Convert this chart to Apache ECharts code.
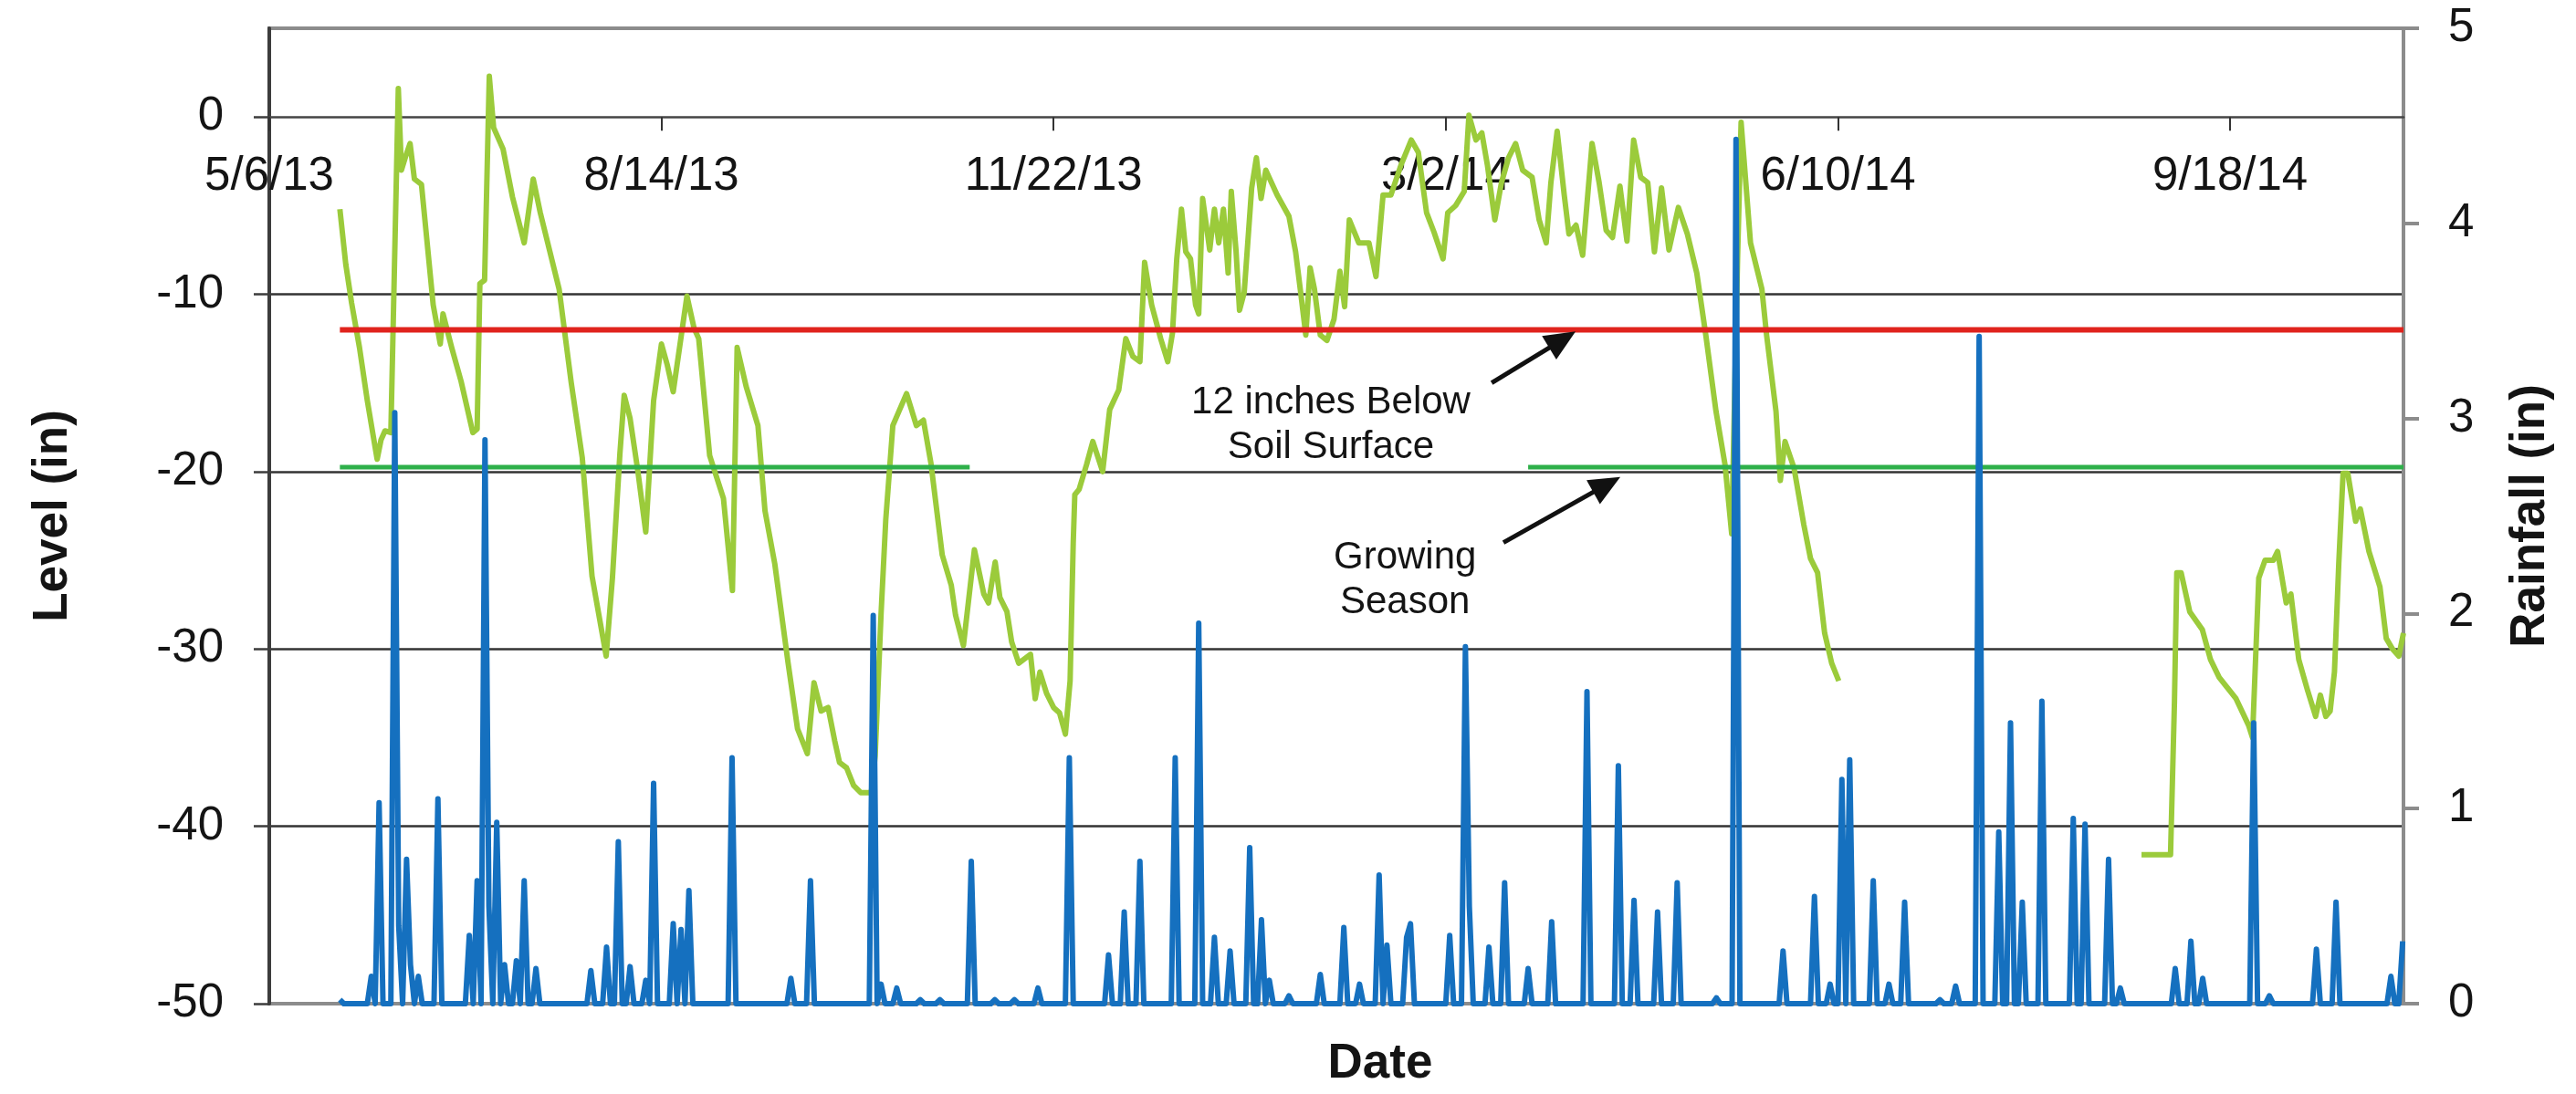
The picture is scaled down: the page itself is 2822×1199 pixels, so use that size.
<!DOCTYPE html>
<html>
<head>
<meta charset="utf-8">
<script src="https://cdn.jsdelivr.net/npm/echarts@6/dist/echarts.min.js"></script>
<style>
  html, body { margin: 0; padding: 0; background: #ffffff; }
  #chart { width: 2822px; height: 1199px; }
</style>
</head>
<body>
<div id="chart"></div>
<script>
// Days are counted from 5/6/13 (day 0); the date axis shows a tick every 100 days.
const tickDays = [0, 100, 200, 300, 400, 500];
const tickLabels = ['5/6/13', '8/14/13', '11/22/13', '3/2/14', '6/10/14', '9/18/14'];
const axisEndDay = 544.2;

const levelMin = -50;
const levelMax = 5;
const levelTicks = [-50, -40, -30, -20, -10, 0];

// Water level in the well (inches relative to the soil surface); null marks the logger gap.
const levelDays = [
  18, 19.5, 21, 23, 25, 27.5, 28.5, 29.5, 31, 32.9, 33.7, 34.8, 35.9, 37, 38.8, 41.8, 43.6, 44.3,
  46.5, 48.9, 51.9, 53, 53.7, 54.9, 56.1, 57.2, 59.6, 62, 65, 67.3, 69.1, 73.9, 77, 79.8, 82.3,
  85.9, 87.5, 89.4, 90.5, 92, 94, 96, 98, 100, 101.5, 103, 106.5, 108.3, 109.5, 112.3, 115.8,
  118.1, 119.3, 121.6, 124.6, 126.4, 128.9, 132.3, 134.7, 137.2, 138.9, 140.7, 142.5, 144.2,
  145.4, 147.2, 149, 150.8, 153.5, 154.5, 156, 157.2, 159, 162.5, 165, 166.8, 168.7, 171.6,
  173.9, 175, 177, 179.8, 182.2, 183.4, 185.1, 186.3, 188.1, 189.3, 191.1, 194.1, 195.3, 196.5,
  198.2, 200, 201.5, 203, 204.2, 205, 205.4, 206.5, 208.4, 210, 212.5, 214.3, 216.6, 218.4,
  220.2, 222, 223.2, 225, 227.3, 229.1, 230.3, 231.4, 232.6, 233.7, 234.9, 236.2, 237, 238,
  239.8, 241, 242.1, 243.3, 244.5, 245.3, 246.5, 247.4, 248.6, 250.5, 251.7, 252.9, 254.1, 257,
  260, 261.7, 263, 264.3, 265.4, 266.5, 268, 269.7, 271.5, 273, 274.2, 275.4, 277.8, 280.4,
  282.2, 284, 286, 288.6, 291.2, 293, 295.1, 297, 299.3, 300.5, 302.5, 304.7, 305.9, 307.7,
  309.2, 310.6, 312.5, 314.2, 316, 317.8, 319.6, 322, 323.8, 325.6, 326.8, 328.4, 330.2, 331.4,
  333.2, 334.9, 337.3, 339.1, 340.9, 342.5, 344.4, 346.2, 347.9, 349.7, 351.5, 353.2, 355,
  356.9, 359.3, 361.6, 364, 366.3, 368.9, 371.2, 372.9, 374.4, 375.3, 376.5, 377.7, 380.6,
  381.8, 384.2, 385.3, 386.5, 388.8, 391.3, 393, 394.8, 396.6, 398.4, 400.2,
  440,
  477.4, 484.8, 485.8, 486.4, 487.5, 489.7, 492.9, 495, 497.2, 501.5, 504.7, 505.7, 507.3,
  508.9, 511, 512.1, 514.3, 515.5, 517.5, 519.7, 521.8, 523, 524.4, 525.5, 526.6, 527.7, 528.8,
  530, 532, 533.2, 535.4, 538.2, 539.8, 541.4, 543, 544.2
];
const levelInches = [
  -5.2, -8.3, -10.5, -13, -16, -19.3, -18.2, -17.7, -17.8, 1.6, -3.0, -2.2, -1.5, -3.5, -3.8, -10.6, -12.8, -11.1,
  -13.0, -14.9, -17.8, -17.6, -9.4, -9.2, 2.3, -0.6, -1.8, -4.5, -7.1, -3.5, -5.4, -9.7, -15, -19.2, -25.9,
  -30.4, -26.0, -19.0, -15.7, -17.0, -20.0, -23.4, -16.0, -12.8, -14.0, -15.5, -10.1, -11.9, -12.5, -19.1, -21.5,
  -26.7, -13.0, -15.2, -17.4, -22.2, -25.2, -30.8, -34.5, -35.9, -31.9, -33.5, -33.3, -35.2,
  -36.4, -36.7, -37.7, -38.1, -38.1, -36, -28, -22.7, -17.4, -15.6, -17.4, -17.1, -19.5, -24.7,
  -26.4, -28.1, -29.8, -24.4, -26.9, -27.4, -25.1, -27.1, -27.9, -29.6, -30.8, -30.3, -32.8, -31.3,
  -32.5, -33.3, -33.6, -34.8, -31.8, -24.0, -21.3, -21.0, -19.6, -18.3, -20.0, -16.5, -15.4, -12.5,
  -13.5, -13.8, -8.2, -10.6, -12.5, -13.8, -12.2, -8.0, -5.2, -7.6, -8.0, -10.6, -11.1, -4.6,
  -7.5, -5.2, -7.1, -5.2, -8.8, -4.2, -7.5, -10.9, -9.9, -4.0, -2.3, -4.6, -3.0, -4.4,
  -5.6, -7.6, -9.9, -12.3, -8.5, -9.7, -12.3, -12.6, -11.4, -8.7, -10.7, -5.8, -7.1, -7.1,
  -9.0, -4.4, -4.4, -2.7, -1.3, -2.0, -5.4, -6.5, -8.0, -5.4, -5.0, -4.2, 0.1, -1.3,
  -0.9, -2.7, -5.8, -3.7, -2.3, -1.5, -3.0, -3.4, -5.8, -7.1, -3.7, -0.8, -4.4, -6.6,
  -6.1, -7.8, -1.5, -3.7, -6.4, -6.8, -3.9, -7.0, -1.3, -3.4, -3.7, -7.6, -4.0,
  -7.5, -5.1, -6.6, -8.8, -12.3, -16.6, -19.6, -23.5, -8, -0.3, -3.7, -7.1, -9.7,
  -12.3, -16.6, -20.5, -18.3, -19.8, -23.0, -24.9, -25.7, -29.1, -30.8, -31.8,
  null,
  -41.6, -41.6, -33, -25.7, -25.7, -27.9, -28.9, -30.6, -31.6, -32.8, -34.3, -35.0, -26.0,
  -25.0, -25.0, -24.5, -27.4, -26.9, -30.6, -32.3, -33.8, -32.6, -33.8, -33.5, -31.3, -25.2, -20.1,
  -20.1, -22.8, -22.1, -24.5, -26.5, -29.4, -30.0, -30.4, -29.1
];

// Daily rainfall (inches); only days with rain are listed, every other day is dry.
const rainFirstDay = 18;
const rainLastDay = 544;
const rainDays = [
  18, 26, 28, 32, 33, 35, 36, 38, 43, 51, 53, 55, 56, 58, 60, 63, 65, 68, 82, 86, 89, 92, 96, 98,
  103, 105, 107, 118, 133, 138, 154, 156, 160, 166, 171, 179, 185, 190, 196, 204, 214, 218, 222,
  231, 237, 241, 245, 250, 253, 255, 260, 268, 274, 278, 283, 285, 290, 291, 301, 305, 306, 311,
  315, 321, 327, 336, 344, 348, 354, 359, 369, 374, 386, 394, 398, 401, 403, 409, 413, 417, 426,
  430, 436, 441, 444, 447, 452, 460, 463, 469, 472, 486, 490, 493, 506, 510, 522, 527, 541, 544
];
const rainInches = [
  0.02, 0.14, 1.03, 3.03, 0.4, 0.74, 0.2, 0.14, 1.05, 0.35, 0.63, 2.89, 0.5, 0.93, 0.2, 0.22, 0.63, 0.18, 0.17, 0.29, 0.83, 0.19, 0.12, 1.13,
  0.41, 0.38, 0.58, 1.26, 0.13, 0.63, 1.99, 0.1, 0.08, 0.02, 0.02, 0.73, 0.02, 0.02, 0.08, 1.26, 0.25, 0.47, 0.73,
  1.26, 1.95, 0.34, 0.27, 0.8, 0.43, 0.12, 0.04, 0.15, 0.39, 0.1, 0.66, 0.3, 0.34, 0.41, 0.35, 1.83, 0.5, 0.29,
  0.62, 0.18, 0.42, 1.6, 1.22, 0.53, 0.47, 0.62, 0.03, 4.43, 0.27, 0.55, 0.1, 1.15, 1.25, 0.63, 0.1, 0.52, 0.02,
  0.09, 3.42, 0.88, 1.44, 0.52, 1.55, 0.95, 0.92, 0.74, 0.08, 0.18, 0.32, 0.13, 1.44, 0.04, 0.28, 0.52, 0.14, 0.32
];

// Reference lines: 12 inches below the soil surface, and the growing-season periods.
const belowSurfaceLevel = -12;
const belowSurfaceSpan = [18, 544.2];
const growingLevel = -19.75;
const growingSeasons = [[18, 178.6], [321, 544.2]];

// Callout texts and arrows, in (day, level) coordinates.
const callouts = [
  { text: '12 inches Below\nSoil Surface', at: [270.7, -17.4], tail: [311.7, -15.0], tip: [333.1, -12.1] },
  { text: 'Growing\nSeason', at: [289.6, -26.1], tail: [314.7, -24.0], tip: [344.5, -20.3] }
];

const FONT = "'Liberation Sans', Arial, sans-serif";

// Plot area in pixels.
const gridBox = { left: 295, right: 189, top: 31, bottom: 99 };
const plotHeight = 1199 - gridBox.top - gridBox.bottom;
// The date axis crosses the level axis at 0: shift it up from the bottom edge.
const dateAxisOffset = -plotHeight * (0 - levelMin) / (levelMax - levelMin);

const levelData = levelDays.map((d, i) => [d, levelInches[i]]);

const rainByDay = new Map(rainDays.map((d, i) => [d, rainInches[i]]));
const rainData = [];
for (let d = rainFirstDay; d <= rainLastDay; d++) {
  rainData.push([d, rainByDay.has(d) ? rainByDay.get(d) : 0]);
}

const belowData = belowSurfaceSpan.map(d => [d, belowSurfaceLevel]);
const growingData = [];
growingSeasons.forEach((s, i) => {
  if (i > 0) growingData.push([(growingSeasons[i - 1][1] + s[0]) / 2, null]);
  growingData.push([s[0], growingLevel], [s[1], growingLevel]);
});

const chart = echarts.init(document.getElementById('chart'), null, { renderer: 'canvas' });

chart.setOption({
  animation: false,
  backgroundColor: '#ffffff',
  grid: Object.assign({ show: true, borderColor: '#8c8c8c', borderWidth: 4 }, gridBox),
  xAxis: {
    type: 'value', position: 'bottom', offset: dateAxisOffset,
    min: 0, max: axisEndDay, interval: 100,
    axisLine: { show: true, onZero: false, lineStyle: { color: '#454545', width: 2.5 } },
    axisTick: { show: true, inside: false, customValues: tickDays, length: 15, lineStyle: { color: '#333333', width: 2 } },
    axisLabel: {
      customValues: tickDays,
      formatter: v => { const i = tickDays.indexOf(v); return i >= 0 ? tickLabels[i] : ''; },
      margin: 40, fontSize: 51, color: '#141414', fontFamily: FONT
    },
    splitLine: { show: false }
  },
  yAxis: [
    {
      type: 'value', position: 'left',
      min: levelMin, max: levelMax, interval: 10,
      name: 'Level (in)', nameLocation: 'middle', nameRotate: 90, nameGap: 210,
      nameTextStyle: { fontSize: 53, fontWeight: 'bold', color: '#141414', fontFamily: FONT },
      axisLine: { show: true, onZero: false, lineStyle: { color: '#3c3c3c', width: 4 } },
      axisTick: { show: true, customValues: levelTicks, length: 17, lineStyle: { color: '#3c3c3c', width: 2.5 } },
      axisLabel: { customValues: levelTicks, margin: 50, fontSize: 51, color: '#141414', fontFamily: FONT },
      splitLine: { show: true, showMinLine: false, showMaxLine: false, lineStyle: { color: '#333333', width: 2.5 } }
    },
    {
      type: 'value', position: 'right',
      min: 0, max: 5, interval: 1,
      name: 'Rainfall (in)', nameLocation: 'middle', nameRotate: 90, nameGap: 113,
      nameTextStyle: { fontSize: 53, fontWeight: 'bold', color: '#141414', fontFamily: FONT },
      axisLine: { show: true, onZero: false, lineStyle: { color: '#8c8c8c', width: 4 } },
      axisTick: { show: true, length: 17, lineStyle: { color: '#8c8c8c', width: 4 } },
      axisLabel: { margin: 49, fontSize: 51, color: '#141414', fontFamily: FONT },
      splitLine: { show: false }
    }
  ],
  series: [
    {
      name: 'Level', type: 'line', xAxisIndex: 0, yAxisIndex: 0,
      data: levelData, showSymbol: false, connectNulls: false, z: 2,
      lineStyle: { color: '#9BCB3B', width: 6, join: 'round' }
    },
    {
      name: '12 inches Below Soil Surface', type: 'line', xAxisIndex: 0, yAxisIndex: 0,
      data: belowData, showSymbol: false, z: 3,
      lineStyle: { color: '#E0231D', width: 6 }
    },
    {
      name: 'Growing Season', type: 'line', xAxisIndex: 0, yAxisIndex: 0,
      data: growingData, showSymbol: false, connectNulls: false, z: 3,
      lineStyle: { color: '#2EB04A', width: 5 }
    },
    {
      name: 'Rainfall', type: 'line', xAxisIndex: 0, yAxisIndex: 1,
      data: rainData, showSymbol: false, z: 4,
      lineStyle: { color: '#1570BF', width: 6, join: 'round' }
    }
  ]
});

// Callouts and the date-axis title, placed after the axes are laid out.
function toPx(p) {
  return chart.convertToPixel({ xAxisIndex: 0, yAxisIndex: 0 }, p);
}
const graphics = [];
callouts.forEach(c => {
  const at = toPx(c.at), tail = toPx(c.tail), tip = toPx(c.tip);
  const dx = tip[0] - tail[0], dy = tip[1] - tail[1];
  const len = Math.hypot(dx, dy), ux = dx / len, uy = dy / len;
  const headLen = 34, headHalf = 15;
  const bx = tip[0] - ux * headLen, by = tip[1] - uy * headLen;
  graphics.push({
    type: 'text', x: at[0], y: at[1], z: 10,
    style: { text: c.text, fontSize: 42, lineHeight: 49, fontFamily: FONT, fill: '#141414', align: 'center', verticalAlign: 'middle' }
  });
  graphics.push({
    type: 'line', z: 10,
    shape: { x1: tail[0], y1: tail[1], x2: bx + ux * 4, y2: by + uy * 4 },
    style: { stroke: '#111111', lineWidth: 5 }
  });
  graphics.push({
    type: 'polygon', z: 10,
    shape: { points: [tip, [bx - uy * headHalf, by + ux * headHalf], [bx + uy * headHalf, by - ux * headHalf]] },
    style: { fill: '#111111' }
  });
});
graphics.push({
  type: 'text', x: 1512, y: 1166, z: 10,
  style: { text: 'Date', fontSize: 53, fontWeight: 'bold', fontFamily: FONT, fill: '#141414', align: 'center', verticalAlign: 'middle' }
});
chart.setOption({ graphic: graphics });
</script>
</body>
</html>
